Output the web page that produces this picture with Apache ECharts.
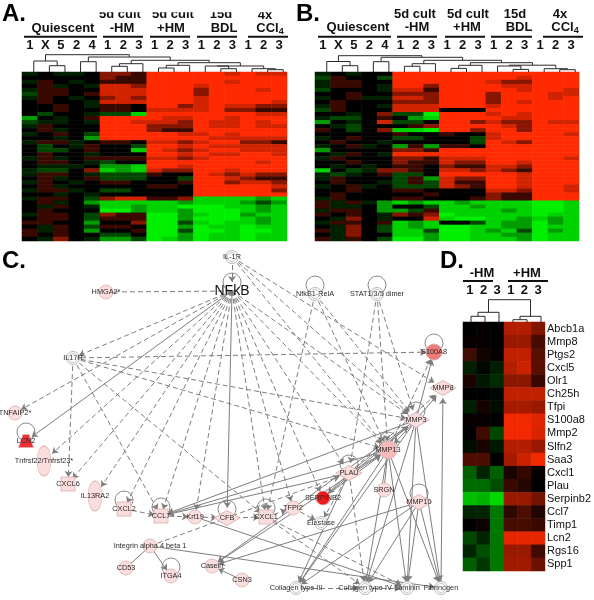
<!DOCTYPE html>
<html><head><meta charset="utf-8">
<style>html,body{margin:0;padding:0;background:#fff}#c{width:594px;height:600px}</style>
<script src="https://cdn.jsdelivr.net/npm/echarts@6/dist/echarts.min.js"></script>
</head><body><div id="c"></div>
<script>
// ---------- DATA ----------
const sampleLabels = ['1','X','5','2','4','1','2','3','1','2','3','1','2','3','1','2','3'];
// one char per cell: a..e = green (bright..very dim), 0 = black, 1..4 = red (dim..bright)
const panelARows = [
"e0ee0 221 444 443 433","00000 211 444 444 444","e10e0 111 444 443 444","01e0e 332 444 344 444",
"e1100 333 444 244 434","d1101 333 444 244 444","e10e0 232 444 344 444","0100e 333 444 344 443",
"0010e 110 442 343 322","00100 110 333 342 211","0d00e ddb 444 444 433","c0e01 444 433 443 444",
"dee0e 443 332 433 434","e1000 444 222 433 433","01e00 444 211 444 444","e010d 444 443 343 444",
"00e0c 444 444 433 333","e11e0 110 332 344 221","0d0e1 00d 443 433 333","0dd01 00b 432 344 333",
"0100e 000 443 433 443","e1e01 111 332 344 444","0110e d00 444 444 434","0eee0 ccb 443 444 444",
"edd02 bcb 322 443 444","e110e ddd 100 432 322","01e01 ddd 00d 443 211","e10e0 110 001 442 332",
"01e00 000 110 444 443","e11e0 dd0 000 444 442","00e0e 000 000 444 444","e110d 233 112 bbb bcb",
"01e0c bbb bbc bbb cdc","0e10e bbc bba aab bcb","01000 aac bbc aaa bcb","e110d 211 aac baa cbb",
"0110d 111 aac aaa bcb","1100c 002 aad bab bcb","0e10d 110 aac abb abb","1e10c 001 aad aab aab",
"10100 dd0 aac abb abb","0e20e ccd abc abb abb"];
const panelBRows = [
"e0e00 444 444 444 444","d100d 444 444 443 444","e1100 444 444 322 444","e110e 442 444 433 444",
"d000e 331 444 443 443","00100 222 444 244 433","e01ee 332 444 244 434","01000 222 444 243 444",
"e100e 333 444 344 444","d1000 333 000 444 444","00e02 dda 444 343 444","edd01 0cb 444 433 444",
"c0e03 dd0 442 322 433","0ed00 012 444 432 444","10d02 bba 442 442 444","00000 100 100 344 443",
"e0100 dd0 00d 344 444","0100e 000 00d 432 444","e01e0 c1c 110 444 444","c0000 221 444 444 444",
"0e10e 444 444 444 444","e1000 221 333 444 443","00100 211 322 443 444","0e0e0 110 211 332 444",
"b0de2 210 332 321 444","ede01 dd0 444 443 444","e1000 d1c 322 443 444","0100e d1d 311 443 444",
"e01e0 ddd 321 443 443","00100 110 000 332 443","01000 001 000 211 444","e1000 110 001 211 444",
"1e1ec bcb bcb bbb aab","1ee0c 00d bbc bbb aab","e110c cd1 bbb bcb aab","1010e 212 abb bbb abb",
"0e20e 003 baa bbc bcb","e1101 bcb 00d bcc acb","0e20d bcb aab bcc abb","1e20d bbd aab cbd acb",
"0e200 bbc aab bcc abb","1e10d aac aab bbc abb"];

const panelDGenes = ['Abcb1a','Mmp8','Ptgs2','Cxcl5','Olr1','Ch25h','Tfpi','S100a8','Mmp2','Slfn2','Saa3','Cxcl1','Plau','Serpinb2','Ccl7','Timp1','Lcn2','Rgs16','Spp1'];
const panelDSamples = ['1','2','3','1','2','3'];
const panelDValues = [
[0,.1,0,2.8,2.8,2],[.1,.1,0,2.4,2.4,1.1],[1,.3,.1,3,3,1.4],[-.5,-.1,-.5,2.8,3.2,1.4],
[.4,-.4,-.7,2.2,2.2,.9],[0,0,-.1,3,3,3],[-.5,.3,-.2,2.6,2.6,2.4],[.1,.1,0,3.8,3.8,3.5],
[0,1,-1.2,3.8,3.8,3.4],[-.2,.4,-.4,2.8,2.8,2.4],[1.2,1.2,0,2.6,3.2,3.8],[-1.6,-.6,-1.6,.4,.8,.1],
[-1.8,-1.8,-1.3,.9,.6,0],[-3.2,-3,-3.6,2.4,2.4,1.8],[-.6,-.6,-2,.7,1.2,.5],[0,.2,-2,1.1,1.1,.9],
[-1.2,-.6,-2,3.6,3.6,3.6],[-.6,-1.3,-2,2.4,2.4,1],[-1.6,-.9,-2,2.5,2.5,1.7]];

// dendrogram merges: [childA, childB, height]; children < leafCount are leaves, others refer to earlier merges
const treeA = [[1,2,6.3],[0,17,11],[3,4,10.3],[5,6,5.7],[20,7,8.3],[8,9,4],[22,10,6.7],[12,13,3.3],[11,24,6],[15,16,2.3],[14,26,3.3],[25,27,6],[23,28,9.3],[21,29,11.7],[19,30,15],[18,31,17.3]];
const treeB = [[1,2,6.3],[0,17,10.5],[3,4,10.3],[5,6,5.7],[20,7,8.3],[8,9,3.6],[22,10,6.7],[12,13,2.6],[11,24,6],[15,16,2.3],[14,26,3.3],[25,27,6.8],[23,28,9.3],[21,29,11.7],[19,30,14.7],[18,31,16.3]];
const treeD = [[0,1,5.7],[6,2,9.7],[3,4,2.3],[8,5,5.7],[7,9,22.3]];

const nodeNames = ['IL-1R','NFkB','HMGA2*','NfkB1-RelA','STAT1/3/5 dimer','S100A8','MMP8','IL17R','TNFAIP2*','LCN2','Tnfrsf22/Tnfrsf23*','CXCL6','IL13RA2','CXCL2','CCL7','Krt19','CFB','CXCL1','TFPI2','SERPINB2','Elastase','PLAU','MMP13','MMP3','SRGN','MMP10','Integrin alpha 4 beta 1','CD53','ITGA4','Casein','CSN3','Collagen type III','Collagen type IV','Laminin','Fibrinogen'];
const nodeX = [232,232,106,315,377,434,443,73,15,26,44,68,95,124,161,195,227,266,293,323,321,349,388,416,384,419,150,126,171,212,242,296,365,407,441];
const nodeY = [257,291,292,294,294,352,388,358,413,441,461,484,496,509,516,517,518,517,508,498,523,473,450,420,490,502,546,568,576,566,580,588,588,588,588];
const loopNames = ['NFkB','NfkB1-RelA','STAT1/3/5 dimer','S100A8','LCN2','CXCL2','CCL7','CFB','CXCL1','PLAU','MMP13','MMP3','MMP10','ITGA4'];
const dashedEdges = [
['HMGA2*','NFkB'],['IL-1R','NFkB'],['NFkB','IL17R'],['NFkB','TNFAIP2*'],['NFkB','Tnfrsf22/Tnfrsf23*'],['NFkB','CXCL6'],['NFkB','IL13RA2'],['NFkB','CXCL2'],['NFkB','CCL7'],['NFkB','Krt19'],['NFkB','CXCL1'],['NFkB','TFPI2'],['NFkB','SERPINB2'],['NFkB','PLAU'],['NFkB','MMP13'],['NFkB','MMP3'],
['IL-1R','MMP3'],['IL-1R','MMP13'],['IL-1R','MMP8'],
['IL17R','S100A8'],['IL17R','CXCL6'],['IL17R','CCL7'],['IL17R','CXCL1'],['IL17R','MMP13'],['IL17R','MMP3'],
['NfkB1-RelA','CXCL1'],['NfkB1-RelA','MMP3'],['NfkB1-RelA','MMP13'],
['STAT1/3/5 dimer','MMP3'],['STAT1/3/5 dimer','PLAU'],['STAT1/3/5 dimer','MMP13'],
['MMP13','S100A8'],['PLAU','MMP8'],['PLAU','Elastase'],['PLAU','Collagen type IV'],['CXCL2','CCL7'],['CCL7','Krt19'],['Krt19','CFB'],['CFB','CXCL1'],['CXCL1','TFPI2'],['TFPI2','Elastase'],['Integrin alpha 4 beta 1','PLAU'],['CXCL1','Laminin'],['CXCL1','Collagen type IV'],['Collagen type III','Collagen type IV'],['Collagen type IV','Laminin']];
const solidEdges = [
['NFkB','LCN2'],['NFkB','CFB'],['MMP3','S100A8'],['MMP3','MMP8'],['Fibrinogen','MMP8'],['MMP3','MMP13'],['MMP3','Fibrinogen'],['MMP3','Laminin'],['MMP3','Collagen type IV'],['MMP3','Collagen type III'],
['MMP13','Collagen type III'],['MMP13','Collagen type IV'],['MMP13','Laminin'],['MMP13','Fibrinogen'],['MMP13','SRGN'],['MMP13','CCL7'],['MMP13','Casein'],['MMP3','CCL7'],['MMP3','Casein'],
['MMP10','Collagen type III'],['MMP10','Collagen type IV'],['MMP10','Laminin'],['MMP10','Fibrinogen'],['MMP10','Casein'],
['PLAU','CCL7'],['PLAU','SERPINB2'],['SERPINB2','MMP13'],['SERPINB2','MMP3'],['PLAU','MMP13'],['PLAU','MMP3'],['PLAU','Collagen type III'],
['Krt19','Laminin'],['Integrin alpha 4 beta 1','CD53'],['Integrin alpha 4 beta 1','ITGA4'],['Integrin alpha 4 beta 1','Fibrinogen'],['CSN3','Casein']];

// ---------- STYLES / LAYOUT ----------
const FONT = '"Liberation Sans", Arial, sans-serif';
const levels = {a:-4,b:-3.5,c:-2.6,d:-1.2,e:-.55,'0':0,'1':.9,'2':2.1,'3':3.3,'4':4};
const toCells = rows => { const out=[]; rows.forEach((r,y)=>r.replace(/ /g,'').split('').forEach((c,x)=>out.push([x,y,levels[c]]))); return out; };
const dCells = []; panelDValues.forEach((r,y)=>r.forEach((v,x)=>dCells.push([x,y,v])));

const treeSegments = (merges, leafCount) => {
  const pos = i => i < leafCount ? [i+.5,0] : nodes[i-leafCount];
  const nodes = [], segs = [];
  merges.forEach(([a,b,h])=>{ const A=pos(a),B=pos(b); segs.push([A[0],A[1],B[0],B[1],h]); nodes.push([(A[0]+B[0])/2,h]); });
  return segs;
};
const rowIdx = n => Array.from({length:n},(_,i)=>String(i));

const heatGrid = {A:{left:22,top:72,width:265,height:169},B:{left:315,top:72,width:264,height:169},D:{left:463,top:322,width:84,height:249}};
const grid = [heatGrid.A,heatGrid.B,heatGrid.D,
  {left:26,top:50,width:265,height:22},{left:319,top:50,width:264,height:22},{left:464,top:298,width:84,height:24},
  {left:0,top:0,width:594,height:600}];
const hiddenVal = (g,max,extra)=>Object.assign({type:'value',gridIndex:g,min:0,max:max,show:false},extra||{});
const heatX = (g,data,margin)=>({type:'category',gridIndex:g,data:data,position:'top',axisLine:{show:false},axisTick:{show:false},splitLine:{show:false},
  axisLabel:{interval:0,margin:margin,fontFamily:FONT,fontWeight:'bold',fontSize:13,color:'#111'}});
const xAxis = [heatX(0,sampleLabels,20),heatX(1,sampleLabels,20),heatX(2,panelDSamples,25),
  hiddenVal(3,17),hiddenVal(4,17),hiddenVal(5,6),hiddenVal(6,594)];
const hiddenCat = (g,n)=>({type:'category',gridIndex:g,data:rowIdx(n),inverse:true,show:false});
const yAxis = [hiddenCat(0,panelARows.length),hiddenCat(1,panelBRows.length),
  {type:'category',gridIndex:2,data:panelDGenes,inverse:true,position:'right',axisLine:{show:false},axisTick:{show:false},splitLine:{show:false},
   axisLabel:{interval:0,margin:2,fontFamily:FONT,fontSize:11,color:'#111'}},
  hiddenVal(3,22),hiddenVal(4,22),hiddenVal(5,24),
  {type:'value',gridIndex:6,min:0,max:600,inverse:true,show:false}];

const heat = (g,data)=>({type:'heatmap',xAxisIndex:g,yAxisIndex:g,data:data,itemStyle:{borderWidth:0},emphasis:{disabled:true},progressive:0});
const tree = (g,segs)=>({type:'custom',xAxisIndex:g,yAxisIndex:g,data:segs,silent:true,clip:false,
  renderItem:(p,api)=>{ const a=api.coord([api.value(0),api.value(1)]),b=api.coord([api.value(0),api.value(4)]),
      c=api.coord([api.value(2),api.value(4)]),d=api.coord([api.value(2),api.value(3)]);
    return {type:'polyline',shape:{points:[a,b,c,d]},style:{fill:null,stroke:'#2a2a2a',lineWidth:1}}; }});

// network
const ringNodes = new Set(['IL-1R','NfkB1-RelA','STAT1/3/5 dimer','IL17R','Elastase','Collagen type III','Collagen type IV','Laminin','Fibrinogen']);
const squareNodes = new Set(['CXCL6','CXCL2','CCL7','CXCL1']);
const diamondNodes = new Set(['CFB','PLAU','MMP3','MMP8','MMP10']);
const ellipseNodes = new Set(['Tnfrsf22/Tnfrsf23*','IL13RA2']);
const fillOf = {'S100A8':'#f07a7a','LCN2':'#ee2f33','SERPINB2':'#f01a1a','MMP13':'#f7b9b9'};
const pos = n => { const i=nodeNames.indexOf(n); return [nodeX[i],nodeY[i]]; };
const graphNodes = nodeNames.map((n,i)=>{
  const ring = ringNodes.has(n);
  let symbol='circle', size=14;
  if (squareNodes.has(n)) { symbol='rect'; size=14; }
  if (diamondNodes.has(n)) { symbol='diamond'; size=[26,15]; }
  if (ellipseNodes.has(n)) { symbol='circle'; size=[14,30]; }
  if (n==='LCN2') { symbol='path://M6,0 L14,0 L20,14 L0,14 Z'; size=[15,13]; }
  if (n==='S100A8') size=16;
  if (n==='MMP13') size=18;
  if (ring) size=13;
  const item = {name:n,value:[nodeX[i],nodeY[i]],symbol:symbol,symbolSize:size,
    itemStyle:{color:ring?'#ffffff':(fillOf[n]||'#fbdddd'),borderColor:ring?'#a5a5a5':'#d8b0b0',borderWidth:.8},
    label:{show:true,position:'inside',fontFamily:FONT,fontSize:7.3,color:'#2b2b2b'}};
  if (n==='NFkB') {
    item.symbolSize=18; item.itemStyle={color:'rgba(255,255,255,0)',borderWidth:0};
    item.label.fontSize=14; item.label.color='#111';
  }
  return item;
});
const edge = (dash)=>(e)=>({source:e[0],target:e[1],lineStyle:{type:dash?[5,3]:'solid',color:'#7e7e7e',width:1,opacity:1}});
const graphLinks = dashedEdges.map(edge(true)).concat(solidEdges.map(edge(false)));
graphLinks.forEach(l=>{ if (l.source==='HMGA2*'||['CD53','SRGN'].includes(l.target)) l.symbol=['none','none']; });

const ringInner = nodeNames.filter(n=>ringNodes.has(n)).map(pos);

const series = [
  heat(0,toCells(panelARows)),heat(1,toCells(panelBRows)),heat(2,dCells),
  tree(3,treeSegments(treeA,17)),tree(4,treeSegments(treeB,17)),tree(5,treeSegments(treeD,6)),
  {type:'scatter',xAxisIndex:6,yAxisIndex:6,silent:true,symbol:'circle',symbolSize:18,z:1,
   data:loopNames.map(n=>{const p=pos(n);return [p[0],p[1]-9];}),
   itemStyle:{color:'rgba(0,0,0,0)',borderColor:'#8a8a8a',borderWidth:1,opacity:1}},
  {type:'graph',coordinateSystem:'cartesian2d',xAxisIndex:6,yAxisIndex:6,layout:'none',silent:true,z:2,
   edgeSymbol:['none','arrow'],edgeSymbolSize:6,data:graphNodes,links:graphLinks},
  {type:'scatter',xAxisIndex:6,yAxisIndex:6,silent:true,symbol:'circle',symbolSize:9,z:3,
   data:ringInner,itemStyle:{color:'rgba(0,0,0,0)',borderColor:'#b5b5b5',borderWidth:.8,opacity:1}}
];

// headers
const txt = (s,x,y,fs,extra)=>({type:'text',x:x,y:y,z:50,silent:true,style:Object.assign({text:s,x:0,y:0,align:'center',verticalAlign:'middle',fontFamily:FONT,fontWeight:'bold',fontSize:fs||13,fill:'#111'},extra||{})});
const bar = (x1,x2,y)=>({type:'line',z:50,silent:true,shape:{x1:x1,y1:y,x2:x2,y2:y},style:{stroke:'#111',lineWidth:2}});
const ccl = {rich:{s:{fontFamily:FONT,fontWeight:'bold',fontSize:9,fill:'#111',padding:[7,0,0,0],verticalAlign:'bottom'}}};
const headerA = [['Quiescent',63,28],['5d cult',120,14.5],['-HM',122,28],['5d cult',173,14.5],['+HM',171,28],['15d',221,14.5],['BDL',224,28],['4x',265,15],['CCl{s|4}',270,28]];
const headerB = [['Quiescent',358,27.5],['5d cult',415,14],['-HM',417,27.5],['5d cult',468,14],['+HM',467,27.5],['15d',515,14],['BDL',519,27.5],['4x',560,14],['CCl{s|4}',565,27.5]];
const headerD = [['-HM',482,273],['+HM',527,273]];
const barsA = [[24,97],[103,143],[150,190],[197,237],[248,288]];
const barsB = [[318,391],[397,437],[445,485],[491,532],[543,583]];
const barsD = [[463,493],[508,548]];
const letters = [['A.',14,14],['B.',308,14],['C.',14,261],['D.',452,261]];
const graphic = [];
headerA.concat(headerB,headerD).forEach(h=>graphic.push(txt(h[0],h[1],h[2],13,h[0].startsWith('CCl')?{rich:ccl.rich}:{})));
barsA.forEach(b=>graphic.push(bar(b[0],b[1],36.7)));
barsB.forEach(b=>graphic.push(bar(b[0],b[1],36.7)));
barsD.forEach(b=>graphic.push(bar(b[0],b[1],281)));
// panel A's upper header row is cut off at the top in the source figure
graphic.push({type:'rect',z:60,silent:true,shape:{x:98,y:0,width:195,height:12.3},style:{fill:'#fff'}});
letters.forEach(l=>graphic.push(txt(l[0],l[1],l[2],24,{fill:'#000'})));

const chart = echarts.init(document.getElementById('c'),null,{renderer:'canvas'});
chart.setOption({animation:false,backgroundColor:'#fff',grid:grid,xAxis:xAxis,yAxis:yAxis,series:series,graphic:graphic,tooltip:{show:false},
  visualMap:{show:false,seriesIndex:[0,1,2],min:-4,max:4,dimension:2,inRange:{color:['#00f000','#000000','#ff2a00']}}});
</script></body></html>
